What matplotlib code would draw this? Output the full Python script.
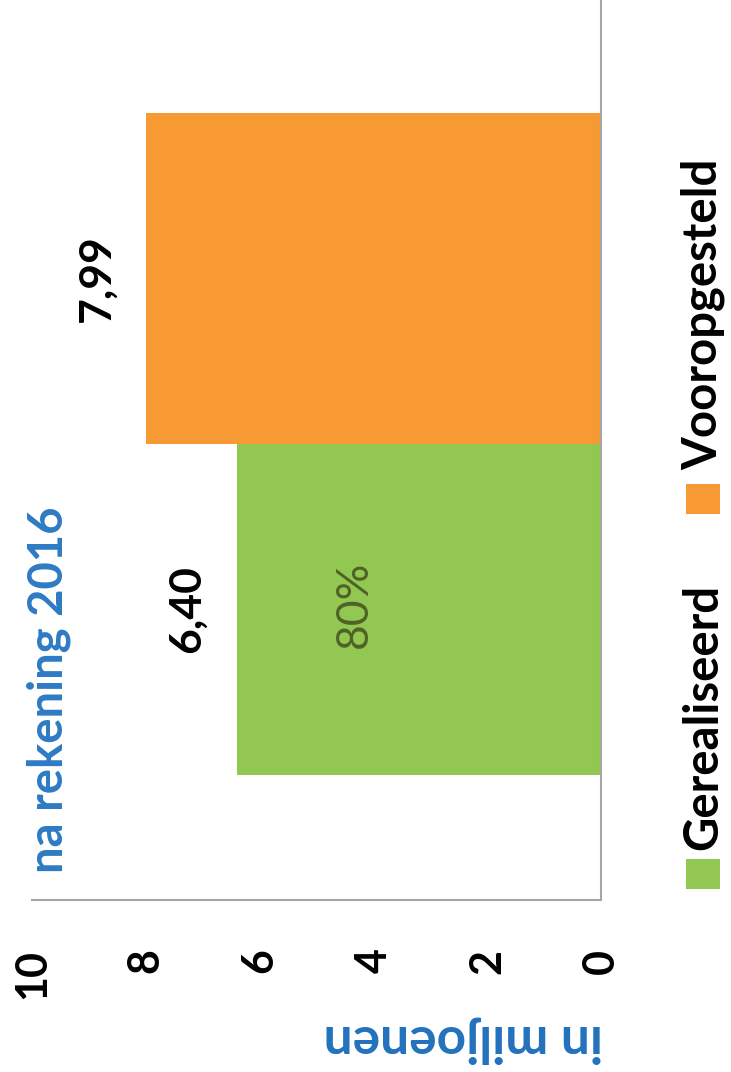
import matplotlib.pyplot as plt
from matplotlib.patches import Rectangle

## Data
series = ['Gerealiseerd', 'Vooropgesteld']
values = [6.40, 7.99]
ticks = [0, 2, 4, 6, 8, 10]
title = 'na rekening 2016'
unit_label = 'in miljoenen'

## Styles
colors = ['#92C851', '#F79A34']
blue = '#2272BC'
plt.rcParams['font.family'] = ['Lato', 'DejaVu Sans']

W, H = 731, 1072
fig = plt.figure(figsize=(W / 100, H / 100), dpi=100)
ax = fig.add_axes([32 / W, 172 / H, 569 / W, 900 / H])

# chart is drawn rotated: bars grow to the left, 0 at the right
ax.barh([0, 1], values, height=1.0, color=colors, edgecolor='none')
ax.set_xlim(10, 0)
ax.set_ylim(-0.879, 1.84)

ax.set_xticks(ticks)
ax.set_xticklabels([str(t) for t in ticks], rotation=90,
                   fontsize=31, fontweight='bold')
ax.tick_params(axis='x', length=0, pad=35)
ax.set_yticks([])
for side in ['left', 'top']:
    ax.spines[side].set_visible(False)
for side in ['right', 'bottom']:
    ax.spines[side].set_color('#A6A6A6')
    ax.spines[side].set_linewidth(1.5)

# value labels beside bars
for i, v in enumerate(values):
    ax.annotate(f'{v:.2f}'.replace('.', ','), xy=(v, i),
                xytext=(-36, 0), textcoords='offset points',
                rotation=90, ha='center', va='center',
                fontsize=32, fontweight='bold', color='black')

# percentage inside the realised bar
pct = round(100 * values[0] / values[1])
ax.text(4.33, 0.015, f'{pct}%', rotation=90, ha='center', va='center',
        fontsize=32, color='#4F6228')

fig.text(49 / W, 1 - 690 / H, title, rotation=90, ha='center',
         va='center', fontsize=34, color='#2E7BC4', fontweight='bold')
fig.text(463 / W, 1 - 1040 / H, unit_label, rotation=180, ha='center',
         va='center', fontsize=37, color=blue, fontweight='bold')

# manual rotated legend
legend_y = [874, 499]
text_top = [850, 470]
for name, c, ly, ty in zip(series, colors, legend_y, text_top):
    fig.patches.append(Rectangle((686 / W, 1 - (ly + 15) / H), 34 / W,
                                 30 / H, transform=fig.transFigure,
                                 facecolor=c, edgecolor='none'))
    fig.text(703 / W, 1 - ty / H, name, rotation=90, ha='center',
             va='bottom', fontsize=34, fontweight='bold', color='black')

fig.savefig('out.png', dpi=100)
